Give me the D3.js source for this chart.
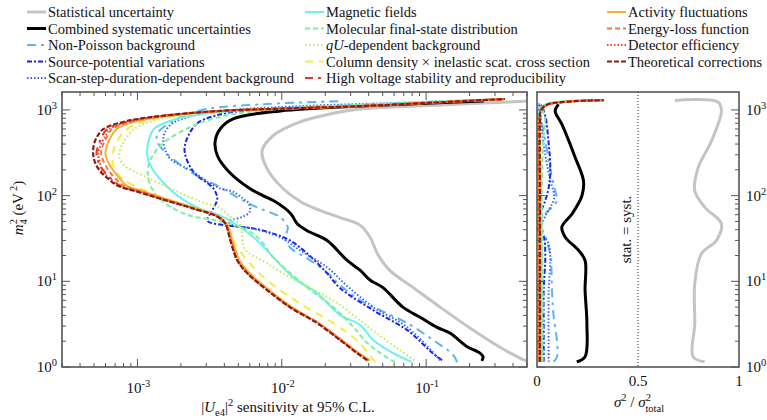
<!DOCTYPE html>
<html><head><meta charset="utf-8">
<script src="https://cdn.jsdelivr.net/npm/d3@7"></script>
<style>
body{margin:0;background:#fff;}
svg text{font-family:"Liberation Serif","Times New Roman","DejaVu Serif",serif;fill:#111;}
</style></head><body>
<svg id="chart" width="767" height="420"></svg>
<script>
// ---- Sensitivity contours: [ |Ue4|^2 , m4^2 (eV^2) ], traced from low to high m4^2 ----
const statCurve = [[0.55,1.12],[0.48,1.2],[0.325,1.7],[0.211,2.7],[0.125,5],[0.081,8.5],[0.056,13.4],[0.046,21],[0.041,32.5],[0.035,45],[0.0254,55.5],[0.0185,67],[0.0135,85],[0.0102,121],[0.0079,207],[0.0073,333],[0.0087,500],[0.0134,725],[0.0254,948],[0.035,1026],[0.125,1143],[0.48,1262],[0.6,1275]];
const combCurve = [[0.243,1.18],[0.248,1.32],[0.236,1.45],[0.19,1.75],[0.147,2.48],[0.119,2.9],[0.091,3.8],[0.069,5],[0.05,8.5],[0.041,10.3],[0.035,13.4],[0.0284,17.5],[0.0206,30],[0.015,39],[0.0128,47],[0.0115,62],[0.0088,87],[0.0074,100],[0.006,121],[0.0043,190],[0.00358,292],[0.00345,425],[0.00375,603],[0.0046,786],[0.0098,975],[0.035,1110],[0.1,1200],[0.25,1270]];
const nonPoissonCurve = [[0.164,1.14],[0.154,1.38],[0.112,2.06],[0.074,3.25],[0.048,4.6],[0.035,6.0],[0.0254,9.0],[0.0206,12.7],[0.015,18.5],[0.0114,24.8],[0.0106,32.5],[0.011,42.5],[0.0098,55.5],[0.0068,72.5],[0.0054,87.5],[0.00357,131],[0.0026,170],[0.0018,260],[0.0014,400],[0.00137,527],[0.00177,745],[0.0023,900],[0.003,1026],[0.0079,1175],[0.0246,1262]];
const sourcePotCurve = [[0.129,1.2],[0.111,1.45],[0.074,2.69],[0.043,4.6],[0.0254,8.3],[0.0206,12.4],[0.015,21.1],[0.0114,30],[0.00875,36],[0.00634,41.5],[0.0042,44.8],[0.00305,51],[0.0032,62],[0.0034,74],[0.00357,92],[0.00336,121],[0.00244,190],[0.00212,334],[0.00225,500],[0.0026,700],[0.0034,850],[0.0055,980],[0.02,1100],[0.15,1250],[0.35,1340]];
const scanStepCurve = [[0.125,1.2],[0.074,2.92],[0.043,5.0],[0.028,9],[0.0206,14.6],[0.0134,22.9],[0.0098,32.5],[0.0068,40],[0.0045,46],[0.0043,50],[0.0054,57],[0.006,65],[0.0059,81],[0.0054,92],[0.0046,111],[0.00375,121],[0.00305,145],[0.00244,190],[0.00169,268],[0.00155,350],[0.00151,460],[0.00155,550],[0.00175,700],[0.0024,850],[0.004,980],[0.012,1100],[0.1,1240],[0.35,1340]];
const magneticCurve = [[0.08,1.14],[0.059,1.45],[0.043,2.06],[0.035,3.08],[0.0254,4.03],[0.0176,7.25],[0.012,11.1],[0.00875,19],[0.0071,27.7],[0.0052,42.5],[0.00375,58.5],[0.00273,70],[0.00189,100],[0.00137,171],[0.00122,230],[0.00117,292],[0.00119,425],[0.0013,600],[0.0017,750],[0.0026,880],[0.005,980],[0.015,1080],[0.08,1200],[0.35,1340]];
const molecularCurve = [[0.061,1.14],[0.048,1.45],[0.038,2.0],[0.031,3.0],[0.0227,5.0],[0.015,8.5],[0.0103,14.6],[0.0083,21],[0.00745,27.7],[0.0063,36],[0.005,44],[0.0034,52],[0.0022,60],[0.00151,85],[0.00123,131],[0.00119,223],[0.00144,381],[0.00233,634],[0.00375,830],[0.007,980],[0.02,1100],[0.1,1250],[0.35,1340]];
const qUCurve = [[0.083,1.2],[0.065,1.6],[0.045,2.5],[0.032,3.9],[0.0227,6.0],[0.0134,9.5],[0.0079,16.2],[0.0055,24],[0.0053,35],[0.0052,45],[0.0045,55],[0.00375,70.6],[0.00273,85],[0.00169,121],[0.0011,171],[0.00082,220],[0.00075,280],[0.00076,350],[0.0008,420],[0.00095,600],[0.0013,750],[0.0022,880],[0.004,970],[0.0098,1030],[0.035,1110],[0.35,1340]];
const columnCurve = [[0.0445,1.14],[0.033,2.06],[0.0227,3.25],[0.0134,5.5],[0.0079,10.3],[0.00578,17.5],[0.0046,30],[0.0042,47],[0.0036,57],[0.0025,70],[0.00105,121],[0.00078,160],[0.0007,200],[0.00067,260],[0.00068,330],[0.00075,480],[0.0009,640],[0.0012,760],[0.002,870],[0.0038,970],[0.0098,1026],[0.035,1110],[0.35,1343]];
const highVoltageCurve = [[0.04,1.2],[0.034,1.45],[0.026,2.06],[0.018,3.25],[0.0116,4.98],[0.0081,7.86],[0.0059,12.4],[0.005,17.5],[0.00448,30],[0.00412,47.2],[0.00362,57],[0.0025,70.6],[0.00148,92],[0.00104,111],[0.00076,131],[0.00065,160],[0.00059,190],[0.00054,240],[0.00052,308],[0.00054,400],[0.00057,500],[0.00062,601],[0.0009,745],[0.0015,851],[0.0038,975],[0.0098,1035],[0.035,1110],[0.352,1343]];
const activityCurve = [[0.041,1.2],[0.034,1.45],[0.026,2.06],[0.018,3.25],[0.0118,4.98],[0.0082,7.86],[0.006,12.4],[0.0051,17.5],[0.00455,30],[0.00415,47.2],[0.00365,57],[0.0026,70.6],[0.00155,92],[0.00112,111],[0.00084,131],[0.00075,160],[0.00069,190],[0.00063,240],[0.0006,308],[0.00062,400],[0.00066,500],[0.00072,601],[0.001,745],[0.0016,851],[0.0038,975],[0.0098,1035],[0.035,1110],[0.352,1343]];
const energyLossCurve = [[0.0395,1.2],[0.0335,1.45],[0.0256,2.06],[0.0177,3.25],[0.0115,4.98],[0.008,7.86],[0.0058,12.4],[0.00495,17.5],[0.00443,30],[0.00408,47.2],[0.0036,57],[0.00248,70.6],[0.0015,92],[0.00108,111],[0.0008,131],[0.0007,160],[0.00064,190],[0.00059,240],[0.00056,308],[0.00058,400],[0.00062,500],[0.00067,601],[0.00095,745],[0.00155,851],[0.0038,975],[0.0098,1035],[0.035,1110],[0.352,1343]];
const detectorCurve = [[0.039,1.2],[0.0333,1.45],[0.0254,2.06],[0.0176,3.25],[0.0114,4.98],[0.00794,7.86],[0.00578,12.4],[0.00492,17.5],[0.0044,30],[0.00406,47.2],[0.00358,57],[0.00246,70.6],[0.00146,92],[0.00102,111],[0.00074,131],[0.00064,160],[0.00057,190],[0.00055,240],[0.000535,308],[0.00056,400],[0.0006,500],[0.00064,601],[0.00092,745],[0.0015,851],[0.0038,975],[0.0098,1035],[0.035,1110],[0.352,1343]];
const theoryCurve = [[0.039,1.2],[0.0333,1.45],[0.0254,2.06],[0.0176,3.25],[0.0114,4.98],[0.00794,7.86],[0.00578,12.4],[0.00492,17.5],[0.0044,30],[0.00406,47.2],[0.00357,57],[0.00244,70.6],[0.00144,92],[0.001,111],[0.000727,131],[0.00062,160],[0.000555,190],[0.00051,240],[0.000493,308],[0.0005,400],[0.00053,500],[0.000582,601],[0.00085,745],[0.00144,851],[0.00375,975],[0.0098,1035],[0.035,1110],[0.352,1343]];

// ---- Variance fractions: [ sigma^2 / sigma^2_total , m4^2 (eV^2) ] ----
const statShare = [[0.83,1.15],[0.773,1.32],[0.781,3.22],[0.781,9.4],[0.814,21],[0.888,30],[0.913,47],[0.831,73],[0.781,114],[0.798,213],[0.864,436],[0.913,975],[0.896,1240],[0.683,1290]];
const combShare = [[0.197,1.15],[0.238,1.32],[0.247,3.25],[0.238,7.9],[0.238,17.5],[0.206,22.9],[0.14,32.7],[0.123,43],[0.173,61],[0.222,99],[0.23,149],[0.189,279],[0.123,682],[0.09,975],[0.107,1164]];
const nonPoissonShare = [[0.082,1.15],[0.099,1.32],[0.099,2],[0.082,4],[0.074,7.9],[0.066,20],[0.033,37],[0.008,47],[0.04,61],[0.099,88],[0.09,114],[0.066,200],[0.041,436],[0.02,800],[0.01,1200]];
const sourcePotShare = [[0.033,1.15],[0.033,3],[0.033,8],[0.041,20],[0.033,33],[0.008,40],[0.016,61],[0.041,88],[0.058,125],[0.066,200],[0.058,400],[0.041,850],[0.02,1150]];
const scanStepShare = [[0.058,1.15],[0.058,8],[0.066,18],[0.058,27],[0.016,42],[0.04,57],[0.085,95],[0.066,149],[0.041,300],[0.016,850],[0.01,1150]];
const magneticShare = [[0.024,1.15],[0.024,10],[0.02,100],[0.012,500],[0.01,1000],[0.05,1180],[0.15,1260],[0.33,1300]];
const molecularShare = [[0.028,1.15],[0.028,10],[0.024,100],[0.03,400],[0.04,800],[0.03,1050],[0.1,1230],[0.33,1300]];
const qUShare = [[0.02,1.15],[0.02,10],[0.02,100],[0.015,700],[0.02,1000],[0.05,1150],[0.15,1250],[0.33,1300]];
const columnShare = [[0.017,1.15],[0.017,10],[0.017,100],[0.015,700],[0.02,1000],[0.05,1150],[0.15,1250],[0.33,1300]];
const highVoltageShare = [[0.012,1.15],[0.012,10],[0.012,100],[0.012,700],[0.02,1000],[0.05,1150],[0.15,1250],[0.33,1300]];
const activityShare = [[0.01,1.15],[0.01,10],[0.01,100],[0.01,700],[0.02,1000],[0.05,1150],[0.15,1250],[0.33,1300]];
const energyLossShare = [[0.012,1.15],[0.012,10],[0.012,100],[0.012,700],[0.02,1000],[0.05,1150],[0.15,1250],[0.33,1300]];
const detectorShare = [[0.01,1.15],[0.01,10],[0.01,100],[0.01,700],[0.02,1000],[0.05,1150],[0.15,1250],[0.33,1300]];
const theoryShare = [[0.015,1.15],[0.015,10],[0.015,100],[0.015,700],[0.02,1000],[0.05,1150],[0.15,1250],[0.33,1300]];

// ---- Legend labels and axis tick labels ----
const seriesLabels = ["Statistical uncertainty","Combined systematic uncertainties","Non-Poisson background","Source-potential variations","Scan-step-duration-dependent background","Magnetic fields","Molecular final-state distribution","qU-dependent background","Column density \u00d7 inelastic scat. cross section","High voltage stability and reproducibility","Activity fluctuations","Energy-loss function","Detector efficiency","Theoretical corrections"];
const yTickExponents = ["0","1","2","3"];
const xTickExponents = ["-3","-2","-1"];
const shareTickLabels = ["0","0.5","1"];

// ---- Styling ----
const curves = [statCurve,combCurve,nonPoissonCurve,sourcePotCurve,scanStepCurve,magneticCurve,molecularCurve,qUCurve,columnCurve,highVoltageCurve,activityCurve,energyLossCurve,detectorCurve,theoryCurve];
const shares = [statShare,combShare,nonPoissonShare,sourcePotShare,scanStepShare,magneticShare,molecularShare,qUShare,columnShare,highVoltageShare,activityShare,energyLossShare,detectorShare,theoryShare];
const styles = [
  {c:"#c4c4c4",w:3,d:null},
  {c:"#000000",w:3,d:null},
  {c:"#5cb4f2",w:2,d:"9,5,3,5"},
  {c:"#1a22e6",w:2,d:"5,2,2,2"},
  {c:"#3b66f5",w:2,d:"1.5,2"},
  {c:"#6cf0f0",w:2,d:null},
  {c:"#7eeea0",w:2,d:"5,3"},
  {c:"#b8ee50",w:2,d:"1.5,2.5"},
  {c:"#f2ee40",w:2,d:"8,6"},
  {c:"#e0382a",w:2,d:"8,5,3,5"},
  {c:"#f6b03a",w:2,d:null},
  {c:"#ee7a3c",w:2,d:"5,3"},
  {c:"#ff3a22",w:2,d:"1.5,2"},
  {c:"#8c1c12",w:2.2,d:"5,2"}
];

const svg = d3.select("#chart");
const L = {x0:62,x1:527,y0:92,y1:367};
const R = {x0:537,x1:739};
const yMax = 1620;

const x = d3.scaleLog().domain([3e-4,0.5]).range([L.x0,L.x1]);
const y = d3.scaleLog().domain([1,yMax]).range([L.y1,L.y0]);
const xr = d3.scaleLinear().domain([0,1]).range([R.x0,R.x1]);

const defs = svg.append("defs");
defs.append("clipPath").attr("id","clipL").append("rect").attr("x",L.x0).attr("y",L.y0).attr("width",L.x1-L.x0).attr("height",L.y1-L.y0);
defs.append("clipPath").attr("id","clipR").append("rect").attr("x",R.x0).attr("y",L.y0).attr("width",R.x1-R.x0).attr("height",L.y1-L.y0);

const lineL = d3.line().x(d=>x(d[0])).y(d=>y(d[1])).curve(d3.curveCatmullRom.alpha(0.5));
const lineR = d3.line().x(d=>xr(d[0])).y(d=>y(d[1])).curve(d3.curveCatmullRom.alpha(0.5));

function drawSet(data, gen, clip){
  const g = svg.append("g").attr("clip-path",`url(#${clip})`);
  data.forEach((pts,i)=>{
    const s = styles[i];
    g.append("path").attr("d",gen(pts)).attr("fill","none")
      .attr("stroke",s.c).attr("stroke-width",s.w)
      .attr("stroke-dasharray",s.d).attr("stroke-linejoin","round").attr("stroke-linecap","butt");
  });
}
drawSet(curves, lineL, "clipL");
drawSet(shares, lineR, "clipR");

// stat = syst divider
svg.append("line").attr("x1",xr(0.5)).attr("x2",xr(0.5)).attr("y1",L.y0).attr("y2",L.y1)
  .attr("stroke","#222").attr("stroke-width",1).attr("stroke-dasharray","1,2");
svg.append("text").attr("transform",`translate(${xr(0.5)-7},${(L.y0+L.y1)/2}) rotate(-90)`)
  .attr("text-anchor","middle").style("font-size","15px").text("stat. = syst.");

// ---- Frames and log ticks ----
const frameColor = "#555";
function logTicks(lo,hi){
  const out=[];
  for(let e=Math.floor(Math.log10(lo));e<=Math.ceil(Math.log10(hi));e++){
    for(let k=1;k<=9;k++){const v=k*Math.pow(10,e); if(v>=lo*0.999&&v<=hi*1.001) out.push({v,major:k===1});}
  }
  return out;
}
const ax = svg.append("g").attr("stroke",frameColor).attr("stroke-width",1);
logTicks(3e-4,0.5).forEach(t=>{
  const len=t.major?8:4, px=x(t.v);
  ax.append("line").attr("x1",px).attr("x2",px).attr("y1",L.y1).attr("y2",L.y1-len);
  ax.append("line").attr("x1",px).attr("x2",px).attr("y1",L.y0).attr("y2",L.y0+len);
});
logTicks(1,yMax).forEach(t=>{
  const len=t.major?8:4, py=y(t.v);
  ax.append("line").attr("x1",L.x0).attr("x2",L.x0+len).attr("y1",py).attr("y2",py);
  ax.append("line").attr("x1",L.x1).attr("x2",L.x1-len).attr("y1",py).attr("y2",py);
  ax.append("line").attr("x1",R.x0).attr("x2",R.x0+len).attr("y1",py).attr("y2",py);
  ax.append("line").attr("x1",R.x1).attr("x2",R.x1-len).attr("y1",py).attr("y2",py);
});
svg.append("rect").attr("x",L.x0).attr("y",L.y0).attr("width",L.x1-L.x0).attr("height",L.y1-L.y0)
  .attr("fill","none").attr("stroke",frameColor).attr("stroke-width",1.6);
svg.append("rect").attr("x",R.x0).attr("y",L.y0).attr("width",R.x1-R.x0).attr("height",L.y1-L.y0)
  .attr("fill","none").attr("stroke",frameColor).attr("stroke-width",1.6);

// ---- Tick labels ----
function powLabel(px,py,exp,anchor){
  const t = svg.append("text").attr("x",px).attr("y",py).attr("text-anchor",anchor).style("font-size","15px");
  t.append("tspan").text("10");
  t.append("tspan").attr("dy",-6).style("font-size","10.5px").text(exp);
}
yTickExponents.forEach(e=>{
  const v=Math.pow(10,+e);
  powLabel(L.x0-5, y(v)+5, e, "end");
  powLabel(R.x1+7, y(v)+5, e, "start");
});
xTickExponents.forEach(e=>{
  powLabel(x(Math.pow(10,+e))+1, 393, e, "middle");
});
shareTickLabels.forEach(s=>{
  svg.append("text").attr("x",xr(+s)).attr("y",386).attr("text-anchor","middle").style("font-size","15px").text(s);
});

// ---- Axis titles ----
const yl = svg.append("text").attr("transform","translate(23,208) rotate(-90)").attr("text-anchor","middle").style("font-size","15px");
yl.append("tspan").style("font-style","italic").text("m");
yl.append("tspan").attr("dy",-6).style("font-size","10.5px").text("2");
yl.append("tspan").attr("dx",-5.5).attr("dy",10).style("font-size","10.5px").text("4");
yl.append("tspan").attr("dy",-4).text(" (eV");
yl.append("tspan").attr("dx",2).attr("dy",-6).style("font-size","10.5px").text("2");
yl.append("tspan").attr("dy",6).text(")");

const xl = svg.append("text").attr("x",288).attr("y",412).attr("text-anchor","middle").style("font-size","15px");
xl.append("tspan").text("|");
xl.append("tspan").style("font-style","italic").text("U");
xl.append("tspan").attr("dy",4).style("font-size","10.5px").text("e4");
xl.append("tspan").attr("dy",-4).text("|");
xl.append("tspan").attr("dy",-6).style("font-size","10.5px").text("2");
xl.append("tspan").attr("dy",6).text(" sensitivity at 95% C.L.");

const rl = svg.append("text").attr("x",639).attr("y",407).attr("text-anchor","middle").style("font-size","15px");
rl.append("tspan").style("font-style","italic").text("\u03c3");
rl.append("tspan").attr("dy",-6).style("font-size","10.5px").text("2");
rl.append("tspan").attr("dy",6).text(" / ");
rl.append("tspan").style("font-style","italic").text("\u03c3");
rl.append("tspan").attr("dy",-6).style("font-size","10.5px").text("2");
rl.append("tspan").attr("dx",-5.5).attr("dy",11).style("font-size","10.5px").text("total");

// ---- Legend ----
const legCols = [{x:27,idx:[0,1,2,3,4]},{x:305,idx:[5,6,7,8,9]},{x:607,idx:[10,11,12,13]}];
const rowY = [12,28.5,45,61.5,78];
legCols.forEach(col=>{
  col.idx.forEach((i,r)=>{
    const s=styles[i], yy=rowY[r];
    svg.append("line").attr("x1",col.x).attr("x2",col.x+19).attr("y1",yy).attr("y2",yy)
      .attr("stroke",s.c).attr("stroke-width",s.w).attr("stroke-dasharray",s.d);
    const t = svg.append("text").attr("x",col.x+21).attr("y",yy+5).style("font-size","14.5px");
    const lab = seriesLabels[i];
    if(lab.startsWith("qU")){
      t.append("tspan").style("font-style","italic").text("qU");
      t.append("tspan").text(lab.slice(2));
    } else t.text(lab);
  });
});
</script></body></html>
